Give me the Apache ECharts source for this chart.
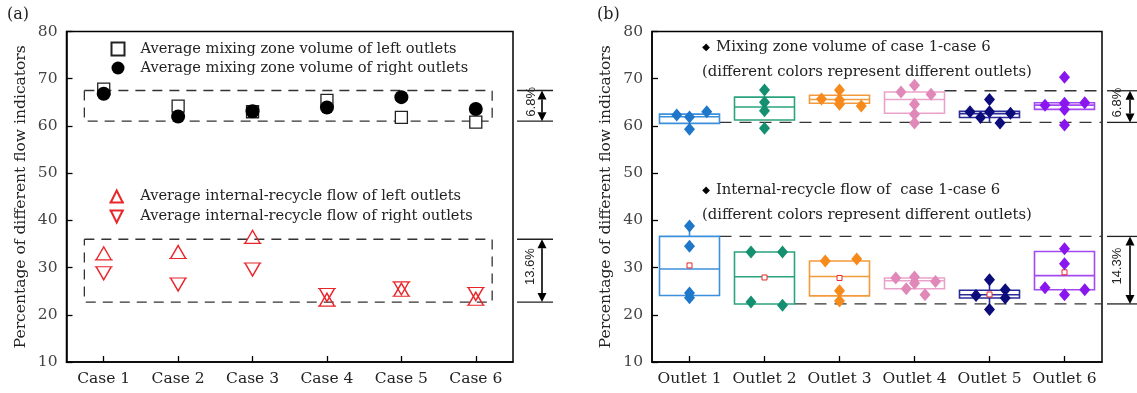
<!DOCTYPE html>
<html><head><meta charset="utf-8">
<script src="https://cdn.jsdelivr.net/npm/echarts@6/dist/echarts.min.js"></script>
<style>html,body{margin:0;padding:0;background:#fff}#c{width:1137px;height:393px}</style>
</head><body><div id="c"></div>
<script>
// ---------- data ----------
const caseLabels = ['Case 1', 'Case 2', 'Case 3', 'Case 4', 'Case 5', 'Case 6'];
const outletLabels = ['Outlet 1', 'Outlet 2', 'Outlet 3', 'Outlet 4', 'Outlet 5', 'Outlet 6'];

// panel (a)
const leftMixing   = [67.8, 64.2, 63.0, 65.4, 61.8, 60.8];
const rightMixing  = [66.8, 62.0, 63.1, 63.9, 66.1, 63.6];
const leftRecycle  = [33.0, 33.3, 36.5, 23.2, 25.3, 23.4];
const rightRecycle = [28.8, 26.4, 29.6, 24.2, 25.6, 24.4];
const leftMixBand = [61.0, 67.5];
const leftRecBand = [22.7, 36.0];

// panel (b): [min, Q1, median, Q3, max]
const mixBox = [
  [60.55, 60.55, 61.95, 62.5, 62.5],
  [61.25, 61.25, 64.0, 66.1, 66.1],
  [64.8, 64.8, 65.6, 66.5, 66.5],
  [62.7, 62.7, 65.6, 67.2, 67.2],
  [60.6, 61.8, 62.6, 63.1, 63.1],
  [63.5, 63.5, 64.4, 64.9, 64.9]
];
const recBox = [
  [24.1, 24.1, 29.7, 36.6, 38.8],
  [22.3, 22.3, 28.05, 33.3, 33.3],
  [22.85, 24.0, 28.1, 31.4, 31.4],
  [25.5, 25.5, 27.2, 27.8, 27.8],
  [21.1, 23.55, 24.25, 25.2, 27.4],
  [25.3, 25.3, 28.3, 33.4, 33.4]
];
const mixValues = [
  [62.3, 61.9, 63.0, 59.3],
  [67.6, 65.0, 63.2, 59.5],
  [65.7, 67.6, 65.5, 64.6, 64.2],
  [67.2, 68.6, 66.7, 64.6, 62.5, 60.6],
  [63.0, 61.8, 65.6, 63.0, 60.6, 62.7],
  [64.4, 70.3, 64.8, 63.5, 64.9, 60.2]
];
const recValues = [
  [38.8, 34.5, 24.6, 23.6],
  [33.3, 33.3, 22.7, 22.0],
  [31.4, 31.8, 25.1, 22.9],
  [27.8, 28.0, 26.7, 27.05, 25.5, 24.25],
  [27.4, 24.1, 25.3, 23.55, 21.1],
  [34.0, 30.8, 25.7, 25.3, 24.25]
];
const recMean = [30.45, 27.9, 27.8, 27.0, 24.3, 29.0];
const rightMixBand = [60.75, 67.45];
const rightRecBand = [22.3, 36.6];

// ---------- layout / style constants ----------
const mixJitter = [
  [-0.17, 0, 0.23, 0],
  [0, 0, 0, 0],
  [-0.24, 0, 0, 0, 0.29],
  [-0.18, 0, 0.22, 0, 0, 0],
  [-0.26, -0.12, 0, 0, 0.14, 0.28],
  [-0.26, 0, 0, 0, 0.27, 0]
];
const recJitter = [
  [0, 0, 0, 0],
  [-0.18, 0.24, -0.18, 0.24],
  [-0.19, 0.23, 0, 0],
  [-0.25, 0, 0, 0.28, -0.11, 0.14],
  [0, -0.18, 0.21, 0.21, 0],
  [0, 0, -0.26, 0.27, 0]
];
const boxColors = ['#3c8fdc', '#2aa37e', '#f39a3c', '#eaa2ca', '#2b2b9a', '#a448f0'];
const dotColors = ['#1f77c9', '#149070', '#f68a1b', '#e088b8', '#0c0c7a', '#8a16ef'];
const boxExtentA = [-0.26, 5.22];
const mixLineFrom = [0.4, 3.4];  // lower, upper
const recLineFrom = [1.4, 0.4];

const SERIF = 'DejaVu Serif';
const RED = '#e8262a';
const triUp = 'path://M-1,10 L11,10 M0,10 L5,0 L10,10 Z';
const triDown = 'path://M-1,0 L11,0 M0,0 L10,0 L5,10 Z';

const chart = echarts.init(document.getElementById('c'));

function yAxisCfg(grid) {
  return {
    gridIndex: grid, type: 'value', min: 10, max: 80, interval: 10,
    name: 'Percentage of different flow indicators', nameLocation: 'middle', nameGap: 38,
    nameTextStyle: { fontFamily: SERIF, fontSize: 15.5, color: '#222' },
    axisLine: { show: true, onZero: false, lineStyle: { color: '#000', width: 1.5 } },
    axisTick: { show: true, inside: true, length: 6, lineStyle: { color: '#000', width: 1.3 } },
    axisLabel: { fontFamily: SERIF, fontSize: 15.5, color: '#444', margin: 9 },
    splitLine: { show: false }
  };
}
function catAxisCfg(grid, cats) {
  return {
    gridIndex: grid, type: 'category', data: cats, boundaryGap: true,
    axisLine: { show: true, onZero: false, lineStyle: { color: '#000', width: 1.5 } },
    axisTick: { show: true, inside: true, alignWithLabel: true, interval: 0, length: 6, lineStyle: { color: '#000', width: 1.3 } },
    axisLabel: { fontFamily: SERIF, fontSize: 15.5, color: '#222', margin: 9, interval: 0 },
    splitLine: { show: false }
  };
}
function hiddenValX(grid) {
  return { gridIndex: grid, type: 'value', min: -0.5, max: 5.5, show: false };
}
function lineSeries(xi, yi, data, dash) {
  return {
    type: 'line', xAxisIndex: xi, yAxisIndex: yi, data: data, showSymbol: false, symbol: 'none',
    silent: true, animation: false,
    lineStyle: { color: '#333', width: 1.3, type: dash }, z: 1
  };
}
function boxSeries(boxes) {
  return {
    type: 'custom', xAxisIndex: 2, yAxisIndex: 1, animation: false, z: 2,
    data: boxes.map((b, i) => [i].concat(b)),
    encode: { x: 0, y: [1, 2, 3, 4, 5] },
    renderItem: function (params, api) {
      const i = api.value(0);
      const xc = api.coord([i, 0])[0];
      const yMin = api.coord([i, api.value(1)])[1];
      const yQ1 = api.coord([i, api.value(2)])[1];
      const yMed = api.coord([i, api.value(3)])[1];
      const yQ3 = api.coord([i, api.value(4)])[1];
      const yMax = api.coord([i, api.value(5)])[1];
      const w = api.size([1, 0])[0] * 0.8;
      const c = boxColors[params.dataIndex];
      const st = { stroke: c, lineWidth: 1.6, fill: null };
      return {
        type: 'group', children: [
          { type: 'line', shape: { x1: xc, y1: yQ3, x2: xc, y2: yMax }, style: st },
          { type: 'line', shape: { x1: xc, y1: yQ1, x2: xc, y2: yMin }, style: st },
          { type: 'rect', shape: { x: xc - w / 2, y: yQ3, width: w, height: yQ1 - yQ3 }, style: { stroke: c, lineWidth: 1.6, fill: 'rgba(0,0,0,0)' } },
          { type: 'line', shape: { x1: xc - w / 2, y1: yMed, x2: xc + w / 2, y2: yMed }, style: st }
        ]
      };
    }
  };
}
function dotSeries(values, jitter) {
  const data = [];
  values.forEach((arr, i) => arr.forEach((v, k) => {
    data.push({ value: [i + jitter[i][k], v], itemStyle: { color: dotColors[i], opacity: 1 } });
  }));
  return {
    type: 'scatter', xAxisIndex: 3, yAxisIndex: 1, symbol: 'diamond', symbolSize: [11, 13],
    itemStyle: { opacity: 1 }, data: data, z: 4, animation: false
  };
}

const rectA = (band) => [[boxExtentA[0], band[1]], [boxExtentA[1], band[1]], [boxExtentA[1], band[0]],
  [boxExtentA[0], band[0]], [boxExtentA[0], band[1]]];

const option = {
  animation: false,
  grid: [
    { left: 66.5, top: 31.5, width: 446.5, height: 330.5, show: true, borderColor: '#000', borderWidth: 1.5 },
    { left: 652, top: 31.5, width: 450, height: 330.5, show: true, borderColor: '#000', borderWidth: 1.5 }
  ],
  xAxis: [catAxisCfg(0, caseLabels), hiddenValX(0), catAxisCfg(1, outletLabels), hiddenValX(1)],
  yAxis: [yAxisCfg(0), yAxisCfg(1)],
  legend: [
    {
      orient: 'vertical', left: 110.5, top: 41.5, padding: 0, itemWidth: 13, itemHeight: 13, itemGap: 4,
      textStyle: { fontFamily: SERIF, fontSize: 14.6, color: '#222', padding: [0, 0, 0, 11] },
      data: ['Average mixing zone volume of left outlets', 'Average mixing zone volume of right outlets'],
      selectedMode: false
    },
    {
      orient: 'vertical', left: 108.5, top: 189, padding: 0, itemWidth: 17, itemHeight: 12, itemGap: 5,
      textStyle: { fontFamily: SERIF, fontSize: 14.6, color: '#222', padding: [0, 0, 0, 10] },
      data: ['Average internal-recycle flow of left outlets', 'Average internal-recycle flow of right outlets'],
      selectedMode: false
    }
  ],
  series: [
    lineSeries(1, 0, rectA(leftMixBand), [10, 7]),
    lineSeries(1, 0, rectA(leftRecBand), [10, 7]),
    {
      name: 'Average mixing zone volume of left outlets', type: 'scatter', xAxisIndex: 0, yAxisIndex: 0,
      symbol: 'rect', symbolSize: 12, data: leftMixing, z: 3,
      itemStyle: { color: '#fff', borderColor: '#222', borderWidth: 1.3, opacity: 1 }
    },
    {
      name: 'Average mixing zone volume of right outlets', type: 'scatter', xAxisIndex: 0, yAxisIndex: 0,
      symbol: 'circle', symbolSize: 14, data: rightMixing, z: 4,
      itemStyle: { color: '#000', opacity: 1 }
    },
    {
      name: 'Average internal-recycle flow of left outlets', type: 'scatter', xAxisIndex: 0, yAxisIndex: 0,
      symbol: triUp, symbolSize: [18, 13], data: leftRecycle, z: 3,
      itemStyle: { color: 'rgba(255,255,255,0)', borderColor: RED, borderWidth: 1.3, opacity: 1 }
    },
    {
      name: 'Average internal-recycle flow of right outlets', type: 'scatter', xAxisIndex: 0, yAxisIndex: 0,
      symbol: triDown, symbolSize: [18, 13], data: rightRecycle, z: 3,
      itemStyle: { color: 'rgba(255,255,255,0)', borderColor: RED, borderWidth: 1.3, opacity: 1 }
    },
    // panel b
    lineSeries(3, 1, [[mixLineFrom[0], rightMixBand[0]], [5.5, rightMixBand[0]]], [12, 8]),
    lineSeries(3, 1, [[mixLineFrom[1], rightMixBand[1]], [5.5, rightMixBand[1]]], [12, 8]),
    lineSeries(3, 1, [[recLineFrom[0], rightRecBand[0]], [5.5, rightRecBand[0]]], [12, 8]),
    lineSeries(3, 1, [[recLineFrom[1], rightRecBand[1]], [5.5, rightRecBand[1]]], [12, 8]),
    boxSeries(mixBox),
    boxSeries(recBox),
    dotSeries(mixValues, mixJitter),
    dotSeries(recValues, recJitter),
    {
      type: 'scatter', xAxisIndex: 2, yAxisIndex: 1, symbol: 'rect', symbolSize: 5, data: recMean, z: 3,
      itemStyle: { color: '#fff', opacity: 1, borderWidth: 1, borderColor: (p) => boxColors[p.dataIndex] }
    }
  ]
};
chart.setOption(option);

// ---------- annotations (range arrows, panel letters, legend texts) ----------
function yPix(axis, v) { return chart.convertToPixel({ yAxisIndex: axis }, v); }
function rangeMark(axis, band, x0, x1, ax, tx, label) {
  const yT = yPix(axis, band[1]), yB = yPix(axis, band[0]);
  const s = { stroke: '#222', lineWidth: 1.3 };
  const h = 9, hw = 4.5;
  return [
    { type: 'line', shape: { x1: x0, y1: yT, x2: x1, y2: yT }, style: s },
    { type: 'line', shape: { x1: x0, y1: yB, x2: x1, y2: yB }, style: s },
    { type: 'line', shape: { x1: ax, y1: yT + h, x2: ax, y2: yB - h }, style: { stroke: '#000', lineWidth: 1.6 } },
    { type: 'polygon', shape: { points: [[ax, yT], [ax - hw, yT + h], [ax + hw, yT + h]] }, style: { fill: '#000' } },
    { type: 'polygon', shape: { points: [[ax, yB], [ax - hw, yB - h], [ax + hw, yB - h]] }, style: { fill: '#000' } },
    {
      type: 'text', x: tx, y: (yT + yB) / 2 - 4, rotation: Math.PI / 2,
      style: { text: label, fontFamily: 'Liberation Sans', fontSize: 13, fill: '#222', align: 'center', verticalAlign: 'middle' }
    }
  ];
}
const txt = (x, y, s, size, align) => ({
  type: 'text', x: x, y: y,
  style: { text: s, fontFamily: SERIF, fontSize: size || 14.8, fill: '#222', align: align || 'left', verticalAlign: 'middle' }
});
const elements = [].concat(
  rangeMark(0, leftMixBand, 517, 553, 542, 531, '6.8%'),
  rangeMark(0, leftRecBand, 517, 553, 542, 530, '13.6%'),
  rangeMark(1, rightMixBand, 1107, 1137, 1130, 1117, '6.8%'),
  rangeMark(1, rightRecBand, 1107, 1137, 1130, 1117, '14.3%'),
  [
    txt(7, 15, '(a)', 16),
    txt(597, 15, '(b)', 16),
    { type: 'text', x: 706, y: 47, style: { text: '◆', fontFamily: 'DejaVu Sans', fontSize: 10, fill: '#000', align: 'center', verticalAlign: 'middle' } },
    txt(716, 47, 'Mixing zone volume of case 1-case 6'),
    txt(702, 72, '(different colors represent different outlets)'),
    { type: 'text', x: 706, y: 190, style: { text: '◆', fontFamily: 'DejaVu Sans', fontSize: 10, fill: '#000', align: 'center', verticalAlign: 'middle' } },
    txt(716, 190, 'Internal-recycle flow of  case 1-case 6'),
    txt(702, 215, '(different colors represent different outlets)')
  ]
);
chart.setOption({ graphic: { elements: elements } });
</script>
</body></html>
